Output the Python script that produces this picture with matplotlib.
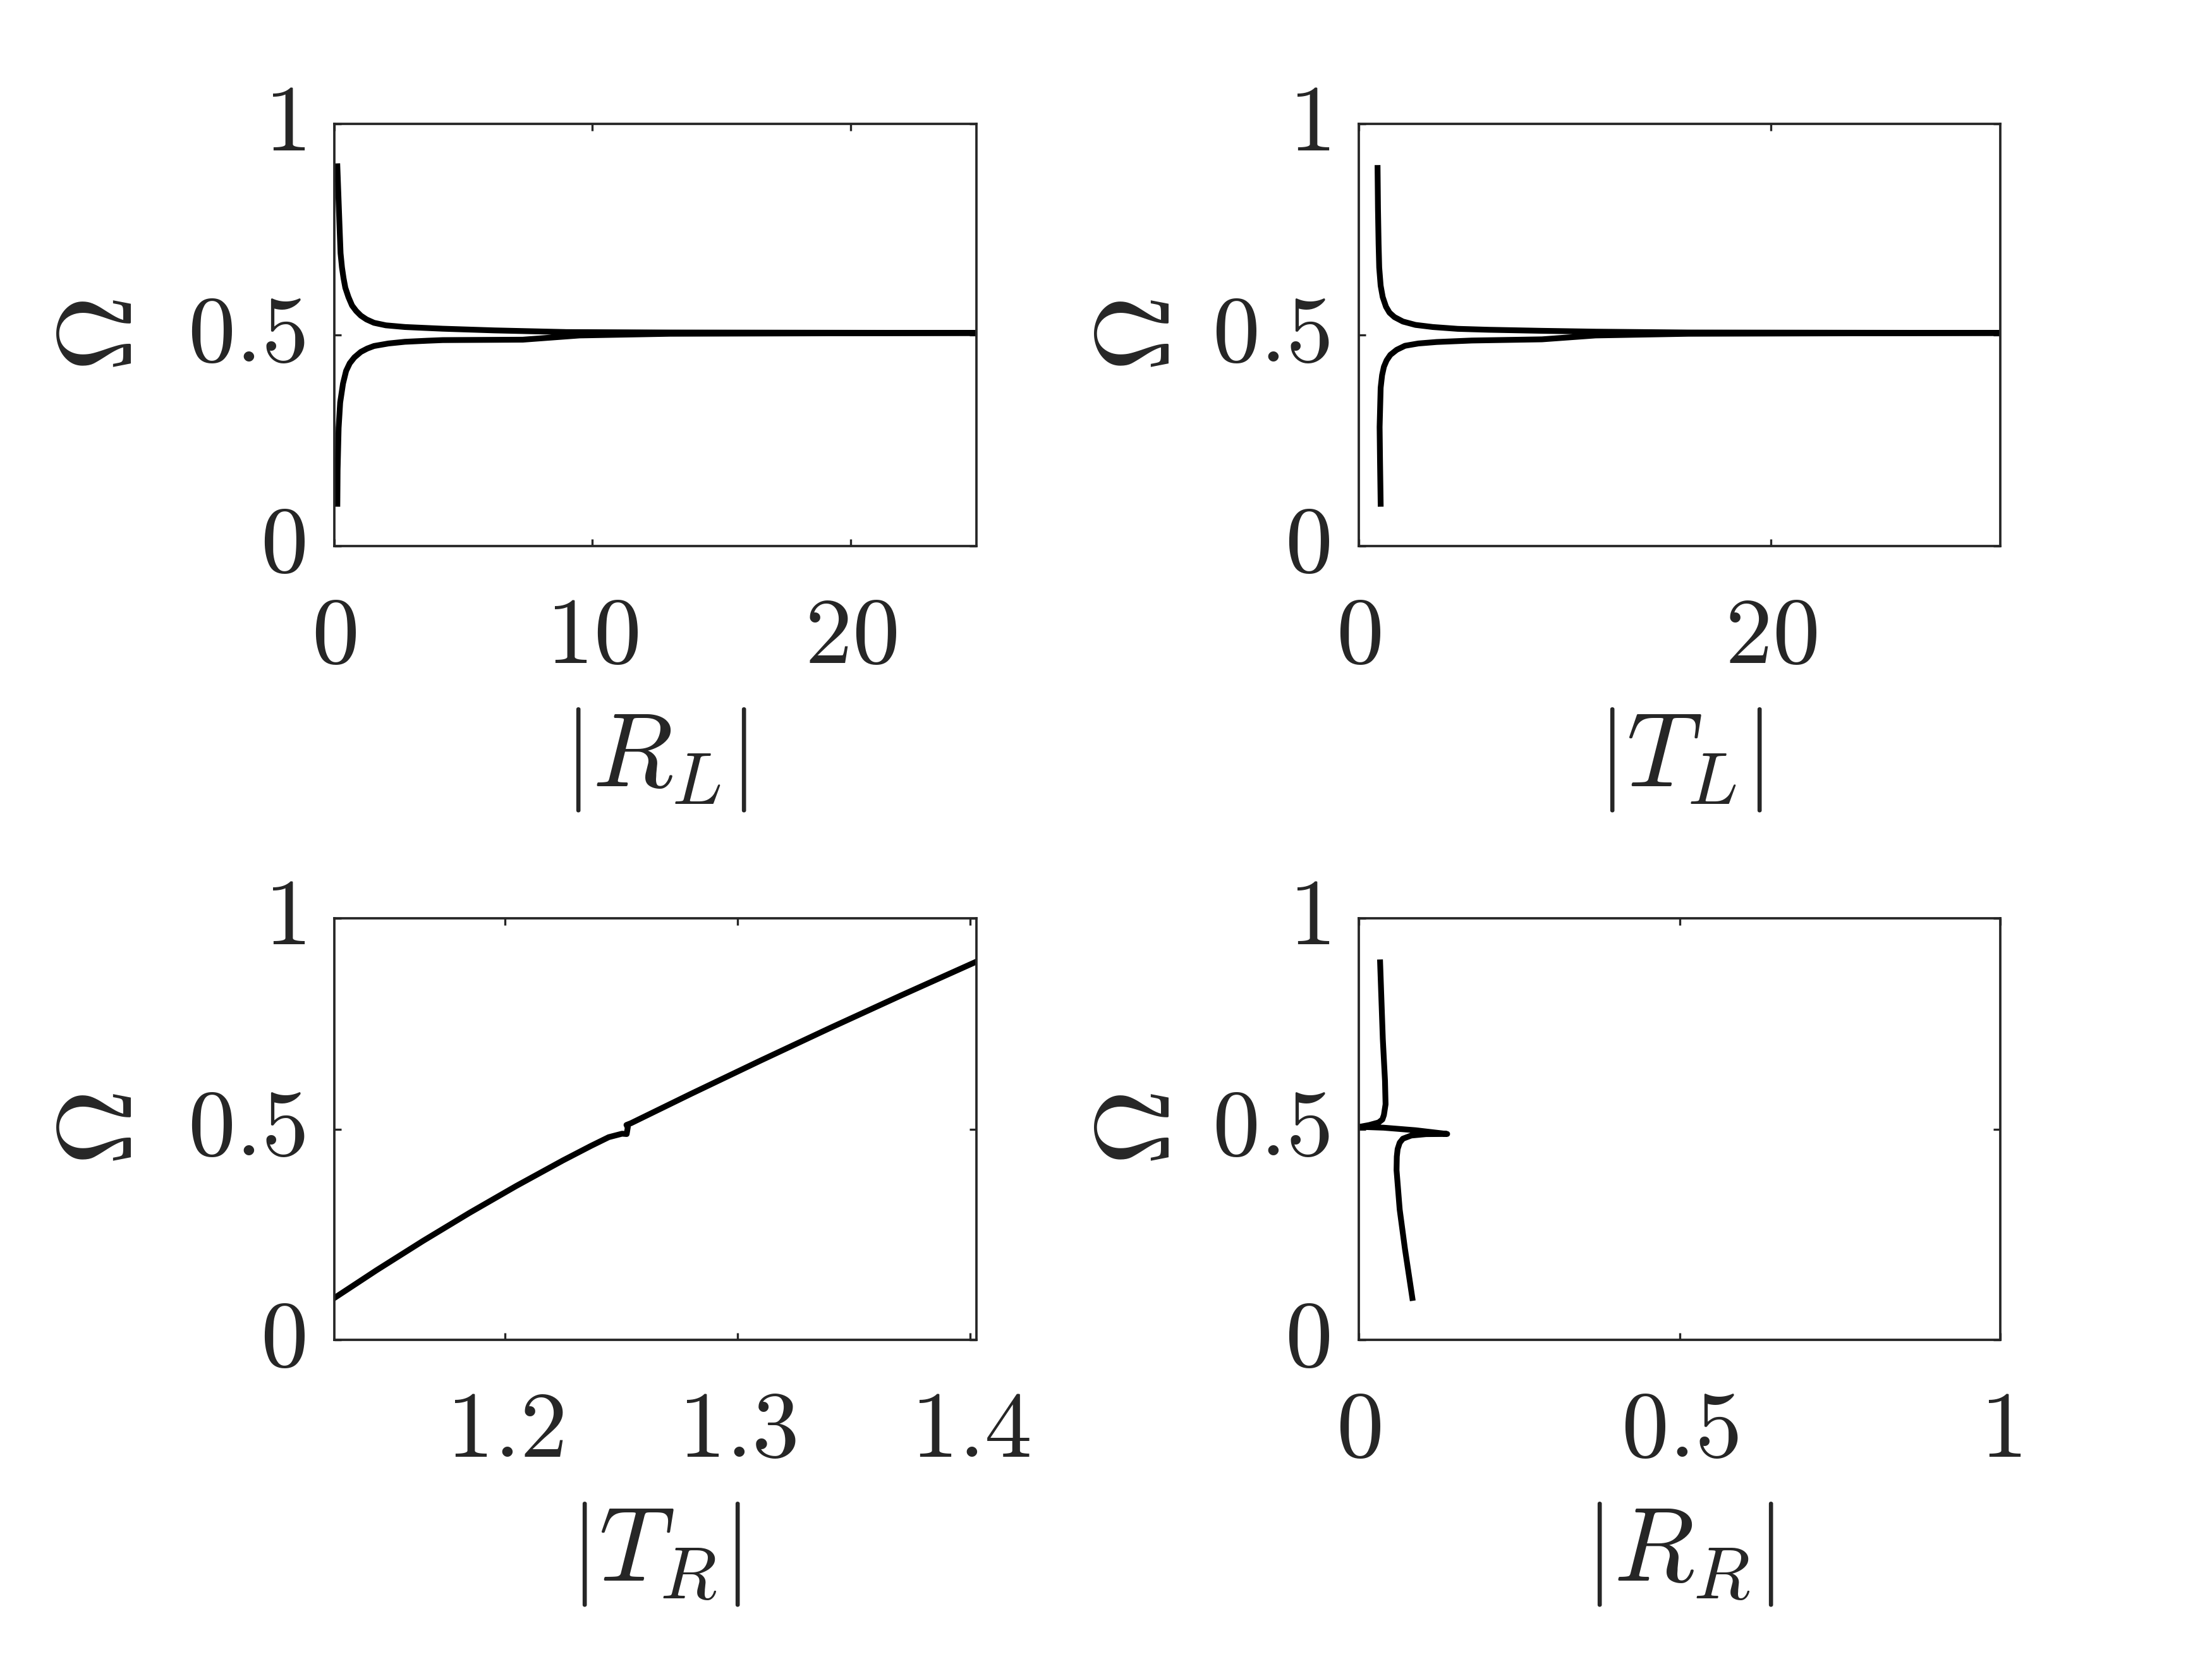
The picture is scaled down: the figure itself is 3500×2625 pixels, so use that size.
import matplotlib
matplotlib.use("Agg")
import matplotlib.pyplot as plt

plt.rcParams["mathtext.fontset"] = "cm"
plt.rcParams["font.family"] = "serif"

# frequency samples and magnitudes (path order)
omega_RL = [0.10, 0.18, 0.28, 0.34, 0.385, 0.415, 0.433, 0.447, 0.460, 0.468,
            0.474, 0.480, 0.484, 0.4865, 0.488, 0.489, 0.499, 0.503, 0.505,
            0.506, 0.507, 0.511, 0.515, 0.519, 0.523, 0.529, 0.537, 0.546,
            0.557, 0.570, 0.590, 0.612, 0.635, 0.66, 0.694, 0.75, 0.90]
abs_RL = [0.12, 0.13, 0.17, 0.23, 0.34, 0.46, 0.60, 0.78, 1.03, 1.28,
          1.54, 2.10, 2.74, 3.6, 4.2, 7.3, 9.5, 13.0, 24.86,
          13.0, 9.0, 6.2, 4.2, 2.74, 2.0, 1.54, 1.25, 1.03,
          0.85, 0.69, 0.55, 0.43, 0.36, 0.30, 0.245, 0.21, 0.12]

omega_TL = [0.10, 0.20, 0.282, 0.375, 0.405, 0.425, 0.440, 0.453, 0.465, 0.4745,
            0.480, 0.4835, 0.487, 0.4898, 0.499, 0.503, 0.505,
            0.506, 0.508, 0.510, 0.5125, 0.5147, 0.519, 0.524, 0.532, 0.5425,
            0.553, 0.567, 0.590, 0.617, 0.66, 0.716, 0.80, 0.896]
abs_TL = [1.07, 1.04, 1.02, 1.07, 1.14, 1.23, 1.36, 1.54, 1.85, 2.25,
          2.9, 3.79, 5.5, 8.9, 11.5, 16.0, 31.16,
          16.0, 11.5, 8.9, 6.3, 4.81, 3.6, 2.76, 2.15, 1.74,
          1.5, 1.33, 1.17, 1.07, 1.0, 0.97, 0.94, 0.92]

omega_TR = [0.0997, 0.1658, 0.2354, 0.3020, 0.3655, 0.4259, 0.4605, 0.4811,
            0.4893, 0.4885, 0.5052, 0.510, 0.5141, 0.5837, 0.6629, 0.7405,
            0.8164, 0.8969]
abs_TR = [1.1268, 1.1450, 1.1650, 1.1850, 1.2050, 1.2250, 1.2371, 1.2447,
          1.2504, 1.2524, 1.2529, 1.2523, 1.2542, 1.2800, 1.3100, 1.3400,
          1.3700, 1.4025]

omega_RR = [0.10, 0.2162, 0.3096, 0.403, 0.435, 0.453, 0.468, 0.4775, 0.485,
            0.4883, 0.4887, 0.4975, 0.5036, 0.5056, 0.5098, 0.516, 0.523,
            0.5335, 0.559, 0.615, 0.714, 0.8954]
abs_RR = [0.0837, 0.0722, 0.0640, 0.0591, 0.0595, 0.0608, 0.0640, 0.0690, 0.0820,
          0.105, 0.138, 0.0887, 0.039, 0.0016, 0.0164, 0.0312, 0.0370,
          0.0394, 0.042, 0.0411, 0.0377, 0.0335]

panels = [
    (abs_RL, omega_RL, r"$|R_L|$", (0, 24.86), [0, 10, 20], ["0", "10", "20"]),
    (abs_TL, omega_TL, r"$|T_L|$", (0, 31.16), [0, 20], ["0", "20"]),
    (abs_TR, omega_TR, r"$|T_R|$", (1.1268, 1.4025), [1.2, 1.3, 1.4], ["1.2", "1.3", "1.4"]),
    (abs_RR, omega_RR, r"$|R_R|$", (0, 1), [0, 0.5, 1], ["0", "0.5", "1"]),
]

positions = [
    [0.1511, 0.6709, 0.2902, 0.2543],
    [0.6142, 0.6709, 0.2902, 0.2543],
    [0.1511, 0.1922, 0.2902, 0.2543],
    [0.6142, 0.1922, 0.2902, 0.2543],
]
ylabel_pads = [13, 8, 13, 8]

ink = "#262626"
fig = plt.figure(figsize=(35 / 3, 8.75), dpi=300)

for (xs, ys, xlab, xlim, xt, xtl), pos, ypad in zip(panels, positions, ylabel_pads):
    ax = fig.add_axes(pos)
    ax.plot(xs, ys, color="black", lw=2.2)
    ax.set_xlim(*xlim)
    ax.set_ylim(0, 1)
    ax.set_xticks(xt)
    ax.set_xticklabels(["$" + t + "$" for t in xtl])
    ax.set_yticks([0, 0.5, 1])
    ax.set_yticklabels(["$0$", "$0.5$", "$1$"])
    for lab in ax.get_yticklabels():
        lab.set_va("center")
    ax.tick_params(direction="in", length=2.6, width=0.8, colors=ink,
                   labelsize=36, top=True, right=True)
    ax.tick_params(axis="x", pad=17)
    ax.tick_params(axis="y", pad=11)
    for s in ax.spines.values():
        s.set_color(ink)
        s.set_linewidth(0.9)
    ax.set_xlabel(xlab, fontsize=40, color=ink, labelpad=9)
    ax.set_ylabel(r"$\Omega$", fontsize=40, color=ink, labelpad=ypad)

fig.savefig("out.png", dpi=300, facecolor="white")
